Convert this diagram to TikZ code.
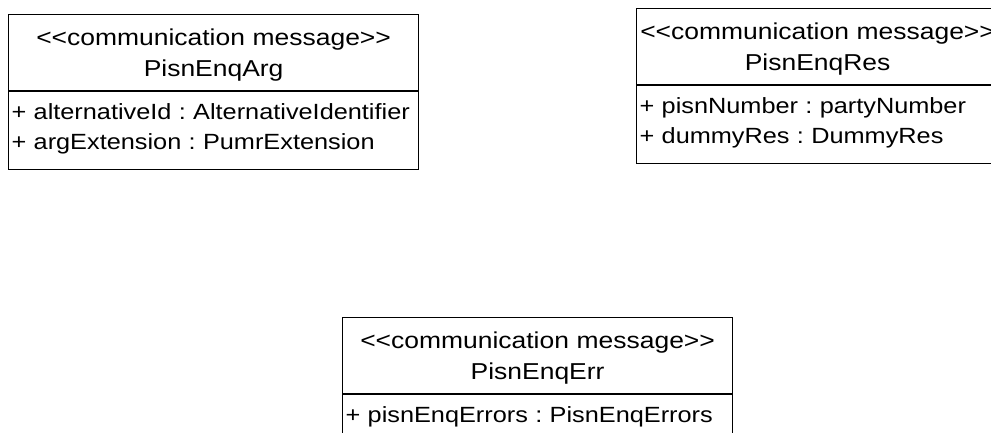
\documentclass[tikz,border=0pt]{standalone}
\usepackage{fontspec}
\setmainfont{Liberation Sans}[FakeStretch=1.15, Ligatures=TeXOff]
\usetikzlibrary{positioning}
\frenchspacing

\begin{document}
\begin{tikzpicture}[
  x=1pt, y=-1pt,
  classtitle/.style={draw, line width=1.2pt, align=center, text width=#1, inner xsep=0pt, inner ysep=12pt, text height=19pt, text depth=33pt, font=\fontsize{23}{31}\selectfont},
  classattr/.style={draw, line width=1.2pt, align=left, text width=#1-6pt, inner xsep=3pt, inner ysep=12pt, text height=16pt, text depth=38pt, font=\fontsize{22}{30}\selectfont},
  node distance=0pt
]
\useasboundingbox (0,0) rectangle (991,433);
\clip (0,0) rectangle (991,433);

\node[classtitle=410pt, anchor=north west] (argtitle) at (8,14) {<<communication message>>\\PisnEnqArg};
\node[classattr=410pt, below=of argtitle] (argattr) {+ alternativeId : AlternativeIdentifier\\+ argExtension : PumrExtension};

\node[classtitle=362pt, anchor=north west] (restitle) at (636,8) {<<communication message>>\\PisnEnqRes};
\node[classattr=362pt, below=of restitle] (resattr) {+ pisnNumber : partyNumber\\+ dummyRes : DummyRes};

\node[classtitle=390pt, anchor=north west] (errtitle) at (342,317) {<<communication message>>\\PisnEnqErr};
\node[classattr=390pt, below=of errtitle] (errattr) {+ pisnEnqErrors : PisnEnqErrors};
\end{tikzpicture}
\end{document}
